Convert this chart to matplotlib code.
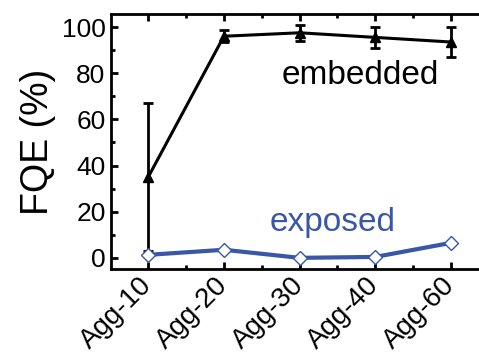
import numpy as np
import matplotlib
matplotlib.use("Agg")
import matplotlib.pyplot as plt
from matplotlib.ticker import MultipleLocator
from matplotlib.transforms import ScaledTranslation

plt.rcParams["font.family"] = ["Liberation Sans", "DejaVu Sans"]

samples = ["Agg-10", "Agg-20", "Agg-30", "Agg-40", "Agg-60"]
embedded = [35, 96, 97.5, 95.5, 93.5]
embedded_err = [32, 2.5, 3.5, 4.5, 6.5]
exposed = [1.3, 3.5, 0, 0.4, 6.5]

blue = "#3a56a8"

fig = plt.figure(figsize=(4.79, 3.52), dpi=100)
ax = fig.add_axes([0.232, 0.236, 0.768, 0.724])

x = np.arange(len(samples))
ax.errorbar(x, embedded, yerr=embedded_err, color="black", lw=2.2,
            marker="^", ms=7.5, capsize=3.5, capthick=2, elinewidth=2, zorder=3)
ax.plot(x, exposed, color=blue, lw=3, marker="D", ms=7,
        mfc="white", mec=blue, mew=1, zorder=4)

ax.text(2.8, 79, "embedded", fontsize=24, ha="center", va="center")
ax.text(2.43, 15.5, "exposed", fontsize=24, ha="center", va="center", color=blue)

ax.set_xlim(-0.49, 4.37)
ax.set_ylim(-4.8, 105.6)
ax.set_xticks(x)
ax.set_xticklabels(samples, rotation=45, ha="right", va="center",
                   rotation_mode="anchor", fontsize=20)
# nudge the rotated labels right so they sit like the original
shift = ScaledTranslation(6 / 100, 0, fig.dpi_scale_trans)
for lab in ax.get_xticklabels():
    lab.set_transform(lab.get_transform() + shift)
ax.set_xticks(x[:-1] + 0.5, minor=True)
ax.set_yticks(np.arange(0, 101, 20))
ax.yaxis.set_minor_locator(MultipleLocator(10))
ax.set_ylabel("FQE (%)", fontsize=27, labelpad=4)

ax.spines["right"].set_visible(False)
for s in ["left", "bottom", "top"]:
    ax.spines[s].set_linewidth(2)
ax.tick_params(which="both", direction="in", top=True, right=False, width=2)
ax.tick_params(axis="y", labelsize=19)
ax.tick_params(which="major", length=5, pad=4)
ax.tick_params(which="minor", length=3)
ax.tick_params(axis="x", pad=9)

fig.savefig("out.png", dpi=100)
